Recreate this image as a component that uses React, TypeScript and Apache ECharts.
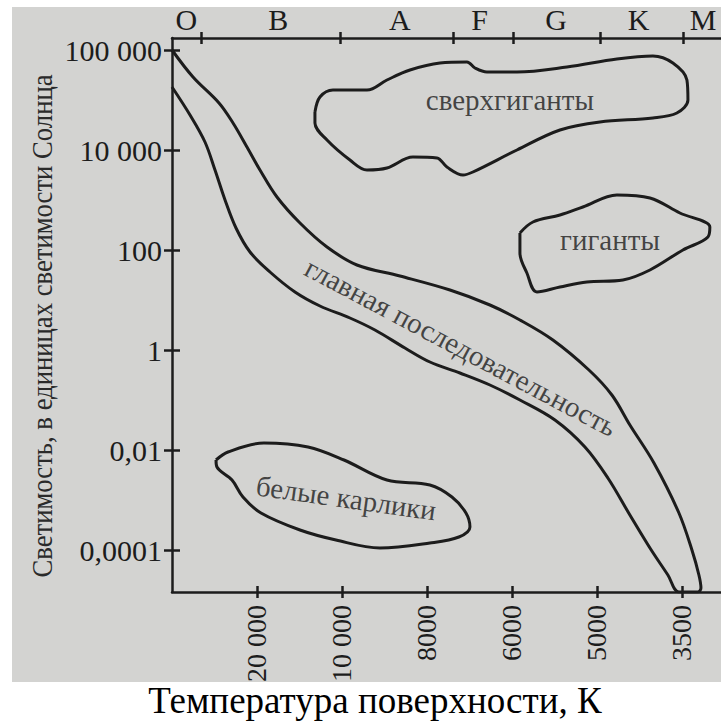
import React, { useEffect, useRef } from "react";
import * as echarts from "echarts";

// Temperature axis (bottom): tick positions on a schematic scale and their labels
const temperatureTicks = [1, 2, 3, 4, 5, 6];
const temperatureLabels = ["20 000", "10 000", "8000", "6000", "5000", "3500"];

// Luminosity axis (left), in units of the Sun's luminosity
const luminosityTicks = [0, 1, 2, 3, 4, 5];
const luminosityLabels = ["0,0001", "0,01", "1", "100", "10 000", "100 000"];

// Spectral classes (top axis): letter positions and class boundaries
const spectralClasses = ["O", "B", "A", "F", "G", "K", "M"];
const spectralCenters = [0.17, 1.25, 2.68, 3.62, 4.52, 5.49, 6.25];
const spectralBoundaries = [0.34, 1.98, 3.31, 4.01, 5.04, 6.01];

// Region outlines in axis units [temperature position, luminosity position]
const mainSequenceUpper: number[][] = [
  [0, 5.0], [0.247, 4.73], [0.553, 4.47], [0.718, 4.27], [0.882, 4.03],
  [1.035, 3.8], [1.235, 3.53], [1.506, 3.27], [1.824, 3.03], [2.176, 2.85],
  [2.682, 2.74], [3.271, 2.6], [3.741, 2.45], [4.094, 2.3], [4.482, 2.1],
  [4.906, 1.8], [5.176, 1.55], [5.388, 1.25], [5.671, 0.87], [5.965, 0.37],
  [6.118, 0.0], [6.2, -0.25], [6.224, -0.38], [6.188, -0.42], [5.965, -0.42],
];
const mainSequenceLower: number[][] = [
  [0, 4.63], [0.212, 4.35], [0.388, 4.08], [0.506, 3.8], [0.624, 3.5],
  [0.753, 3.22], [0.918, 2.98], [1.153, 2.78], [1.447, 2.58], [1.741, 2.44],
  [2.094, 2.32], [2.388, 2.2], [2.741, 2.02], [3.035, 1.88], [3.388, 1.77],
  [3.741, 1.65], [4.094, 1.5], [4.506, 1.3], [4.859, 1.03], [5.129, 0.72],
  [5.388, 0.35], [5.624, 0.02], [5.835, -0.25], [5.965, -0.42],
];
const supergiants: number[][] = [
  [1.682, 4.38], [1.741, 4.53], [1.894, 4.6], [2.294, 4.6], [2.529, 4.7],
  [2.8, 4.8], [3.153, 4.87], [3.471, 4.88], [3.565, 4.82], [3.706, 4.78],
  [4.059, 4.78], [4.647, 4.83], [5.235, 4.91], [5.659, 4.94], [5.894, 4.87],
  [6.059, 4.7], [6.071, 4.5], [5.941, 4.37], [5.659, 4.32], [5.035, 4.28],
  [4.565, 4.2], [4.059, 4.0], [3.541, 3.78], [3.424, 3.75], [3.235, 3.83],
  [3.118, 3.92], [2.835, 3.93], [2.529, 3.82], [2.294, 3.8], [2.094, 3.9],
  [1.824, 4.1], [1.682, 4.27], [1.682, 4.38],
];
const giants: number[][] = [
  [4.094, 3.17], [4.247, 3.28], [4.565, 3.35], [4.835, 3.43], [5.235, 3.55],
  [5.624, 3.52], [5.976, 3.37], [6.329, 3.23], [6.306, 3.13], [6.012, 3.0],
  [5.624, 2.8], [5.306, 2.7], [4.882, 2.68], [4.565, 2.63], [4.294, 2.58],
  [4.176, 2.77], [4.094, 2.97], [4.094, 3.17],
];
const whiteDwarfs: number[][] = [
  [0.518, 0.9], [0.659, 0.98], [1.082, 1.07], [1.6, 1.03], [2.024, 0.9],
  [2.529, 0.7], [3.035, 0.65], [3.294, 0.53], [3.459, 0.37], [3.506, 0.23],
  [3.376, 0.13], [3.035, 0.07], [2.447, 0.02], [1.929, 0.1], [1.506, 0.2],
  [1.047, 0.37], [0.835, 0.53], [0.706, 0.7], [0.529, 0.83], [0.518, 0.9],
];

// Region names, where they sit and how they are tilted (degrees)
const regionNames = ["сверхгиганты", "гиганты", "главная последовательность", "белые карлики"];
const regionLabelPos: number[][] = [[3.976, 4.5], [5.153, 3.1], [3.4, 2.03], [2.05, 0.52]];
const regionLabelTilt = [0, 0, -28, -8];

const X_MIN = 0;
const X_MAX = 6.46;
const Y_MIN = -0.42;
const Y_MAX = 5.12;

const SERIF = "Liberation Serif, Times New Roman, serif";
const INK = "#1c1c1c";

function outline(name: string, data: number[][]) {
  return {
    name,
    type: "line",
    data,
    smooth: 0.35,
    symbol: "none",
    lineStyle: { color: INK, width: 3 },
    silent: true,
    z: 3,
  };
}

export default function App() {
  const ref = useRef<HTMLDivElement>(null);

  useEffect(() => {
    if (!ref.current) return;
    const chart = echarts.init(ref.current, undefined, { renderer: "svg" });

    const lineStyle = { color: INK, width: 2.5 };
    const pick = (ticks: number[], labels: string[]) => (v: number) => {
      const i = ticks.findIndex((t) => Math.abs(t - v) < 1e-6);
      return i >= 0 ? labels[i] : "";
    };

    const xBase = {
      type: "value", min: X_MIN, max: X_MAX,
      splitLine: { show: false },
    };

    const option = {
      animation: false,
      backgroundColor: "transparent",
      grid: { left: 172, right: 0, top: 38, bottom: 130 },
      xAxis: [
        {
          ...xBase, position: "bottom",
          axisLine: { show: true, onZero: false, lineStyle },
          axisTick: { show: true, customValues: temperatureTicks, length: 6, inside: false, lineStyle },
          axisLabel: {
            customValues: temperatureTicks, rotate: 90, margin: 13,
            formatter: pick(temperatureTicks, temperatureLabels),
            fontFamily: SERIF, fontSize: 28, color: INK,
          },
        },
        {
          ...xBase, position: "bottom",
          axisLine: { show: false, onZero: false },
          axisTick: { show: true, customValues: temperatureTicks, length: 6, inside: true, lineStyle },
          axisLabel: { show: false },
        },
        {
          ...xBase, position: "top",
          axisLine: { show: true, onZero: false, lineStyle },
          axisTick: { show: true, customValues: spectralBoundaries, length: 6, inside: false, lineStyle },
          axisLabel: {
            customValues: spectralCenters, margin: 4,
            formatter: pick(spectralCenters, spectralClasses),
            fontFamily: SERIF, fontSize: 30, color: INK,
          },
        },
        {
          ...xBase, position: "top",
          axisLine: { show: false, onZero: false },
          axisTick: { show: true, customValues: spectralBoundaries, length: 6, inside: true, lineStyle },
          axisLabel: { show: false },
        },
      ],
      yAxis: [
        {
          type: "value", position: "left", min: Y_MIN, max: Y_MAX,
          axisLine: { show: true, onZero: false, lineStyle },
          axisTick: { show: true, customValues: luminosityTicks, length: 8, inside: false, lineStyle },
          axisLabel: {
            customValues: luminosityTicks, margin: 10,
            formatter: pick(luminosityTicks, luminosityLabels),
            fontFamily: SERIF, fontSize: 30, color: INK,
          },
          splitLine: { show: false },
        },
        {
          type: "value", position: "left", min: Y_MIN, max: Y_MAX,
          axisLine: { show: false, onZero: false },
          axisTick: { show: true, customValues: luminosityTicks, length: 8, inside: true, lineStyle },
          axisLabel: { show: false },
          splitLine: { show: false },
        },
      ],
      graphic: [
        {
          type: "rect", z: -10, silent: true,
          shape: { x: 12, y: 7, width: 709, height: 675 },
          style: { fill: "#d3d3d1" },
        },
        {
          type: "rect", z: 100, silent: true,
          shape: { x: 0, y: 682, width: 721, height: 40 },
          style: { fill: "#ffffff" },
        },
        {
          type: "text", z: 101, silent: true, x: 375, y: 700,
          style: {
            text: "Температура поверхности, К",
            fontFamily: SERIF, fontSize: 37, fill: "#000000",
            align: "center", verticalAlign: "middle",
          },
        },
        {
          type: "text", z: 101, silent: true, x: 42, y: 326,
          rotation: Math.PI / 2, scaleX: 0.89,
          style: {
            text: "Светимость, в единицах светимости Солнца",
            fontFamily: SERIF, fontSize: 30, fill: "#2a2a2a",
            align: "center", verticalAlign: "middle",
          },
        },
      ],
      series: [
        outline("main", [...mainSequenceUpper, ...[...mainSequenceLower].reverse()]),
        outline("supergiants", supergiants),
        outline("giants", giants),
        outline("whiteDwarfs", whiteDwarfs),
        {
          name: "labels",
          type: "scatter",
          symbolSize: 0,
          silent: true,
          z: 4,
          data: regionNames.map((n, i) => ({
            value: regionLabelPos[i],
            label: {
              show: true, position: "inside", formatter: n,
              rotate: regionLabelTilt[i],
              fontFamily: SERIF, fontSize: 29, color: INK,
            },
          })),
        },
      ],
    };

    chart.setOption(option as any);
    return () => chart.dispose();
  }, []);

  return (
    <div
      ref={ref}
      style={{ position: "fixed", left: 0, top: 0, width: 721, height: 722, background: "#ffffff" }}
    />
  );
}
